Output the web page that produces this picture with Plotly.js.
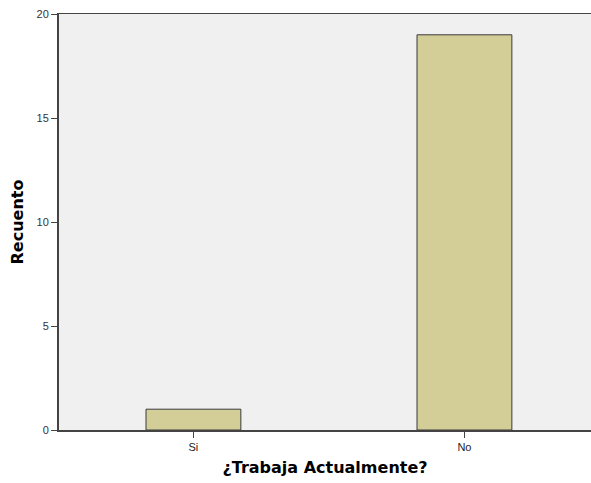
<!DOCTYPE html>
<html>
<head>
<meta charset="utf-8">
<script src="https://cdn.plot.ly/plotly-3.0.1.min.js"></script>
<style>body{margin:0;padding:0;background:#fff;}#chart{width:591px;height:483px;}</style>
</head>
<body>
<div id="chart"></div>
<script>
const categories = ["Si", "No"];
const counts = [1, 19];
const yTicks = [0, 5, 10, 15, 20];

const trace = {
  type: "bar",
  x: categories,
  y: counts,
  width: 0.35,
  marker: {color: "#D3CE97", line: {color: "#3a3a3a", width: 1}},
  hoverinfo: "x+y"
};

const titleFont = {family: "DejaVu Sans, Verdana, sans-serif", size: 16, color: "#000", weight: "bold"};

const layout = {
  width: 591, height: 483,
  margin: {l: 59, r: 0, t: 14, b: 53},
  paper_bgcolor: "#ffffff",
  plot_bgcolor: "#F0F0F0",
  showlegend: false,
  xaxis: {
    type: "category",
    range: [-0.496, 1.467],
    showgrid: false, zeroline: false,
    showline: true, linecolor: "#444", linewidth: 1.5, mirror: true,
    ticks: "outside", ticklen: 6, tickcolor: "#444", tickwidth: 1,
    tickfont: {family: "Arial, Liberation Sans, sans-serif", size: 11, color: "#222"},
    title: {text: "¿Trabaja Actualmente?", font: titleFont, standoff: 10}
  },
  yaxis: {
    range: [0, 20],
    tickvals: yTicks,
    showgrid: false, zeroline: false,
    showline: true, linecolor: "#444", linewidth: 2,
    ticks: "outside", ticklen: 6, tickcolor: "#444", tickwidth: 1,
    tickfont: {family: "Arial, Liberation Sans, sans-serif", size: 11, color: "#333"},
    title: {text: "Recuento", font: titleFont, standoff: 9}
  }
};

Plotly.newPlot("chart", [trace], layout, {displayModeBar: false, staticPlot: true});
</script>
</body>
</html>
